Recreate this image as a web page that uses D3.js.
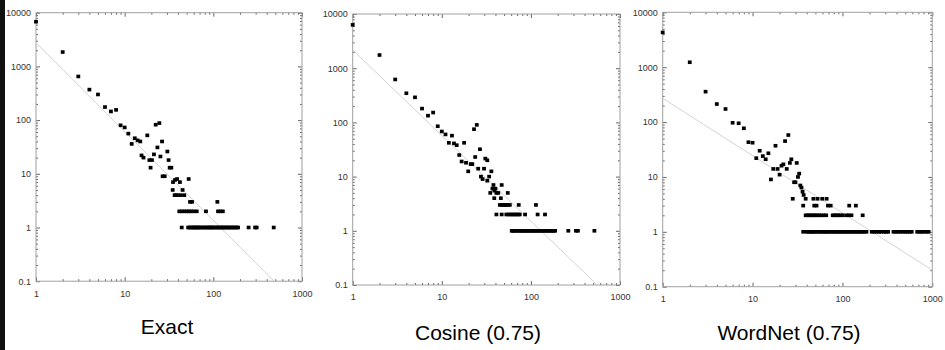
<!DOCTYPE html>
<html>
<head>
<meta charset="utf-8">
<script src="https://cdn.jsdelivr.net/npm/d3@7"></script>
<style>
  body { margin: 0; background: #fff; }
  text { font-family: Arial, "Liberation Sans", sans-serif; }
</style>
</head>
<body>
<div id="chart"></div>
<script>
// tick values and panel titles
const xTicks = [1, 10, 100, 1000];
const yTicks = [0.1, 1, 10, 100, 1000, 10000];
const panelTitles = ["Exact", "Cosine (0.75)", "WordNet (0.75)"];

// points: [x, y]
const exactPoints = [
  [1,6800],[2,1850],[3,650],[4,370],[5,300],[6,175],[7,145],[8,155],[9,80],[10,73],
  [11,56],[12,36],[13,46],[14,42],[15,40],[15.5,22],[16.3,20],[18,52],[19,18],[19.6,13],
  [20.3,18],[21.4,23],[22.4,82],[23.4,31],[24.6,88],[25.3,21],[26.4,40],[26.8,9],[28.3,9],
  [30.3,26],[31.3,18],[32.2,13],[33.6,13],[34.8,5],[35.1,7],[36.6,4],[37,7.7],[38,4],[39,8],
  [40,4],[42,7],[43,4],[45,5],[47,4],[52.7,8],[54.6,3],[57.5,3],[111,3],
  [41.3,2],[44,2],[47,2],[50,2],[53,2],[56,2],[60,2],[65,2],[82.6,2],[113,2],[120,2],[128,2],
  [44,1],[52,1],[54,1],[56,1],[58,1],[60,1],[62,1],[64,1],[66,1],[68,1],[70,1],[73,1],[76,1],
  [79,1],[82,1],[85,1],[88,1],[91,1],[94,1],[97,1],[100,1],[104,1],[108,1],[112,1],[116,1],
  [120,1],[124,1],[128,1],[132,1],[137,1],[142,1],[147,1],[152,1],[158,1],[164,1],[170,1],
  [177,1],[184,1],[190,1],[250,1],[296,1],[308,1],[480,1]
];
const cosinePoints = [
  [1,6300],[2,1750],[3,620],[4,345],[5,290],[6,180],[7,133],[8,152],[9,85],[10,68],
  [11,60],[12,42],[13,57],[13.7,41],[14.7,38],[15.7,25],[16.7,19],[17.8,42],[18.7,18],[19.8,12.5],
  [21.1,17],[22,17],[23,75],[23.7,23],[24.7,90],[25.6,14],[26.8,32],[27.5,10],[28.7,9],[29.8,14],
  [30.8,21.5],[32.4,20],[32.4,8.4],[34,10],[36,12.5],[35,5],[37,6],[38,7],[39,5.5],[40,6],
  [41,5],[43,5],[47,7],[38.8,4],[46,4],[55,5],
  [44.8,3],[47,3],[49,3],[51,3],[53,3],[55,3],[58,3],[73,3],[114,3],
  [41,2],[47,2],[53,2],[56,2],[59,2],[62,2],[65,2],[68,2],[72,2],[75,2],[86,2],[119,2],[144,2],
  [61,1],[63,1],[65,1],[68,1],[71,1],[74,1],[77,1],[80,1],[83,1],[86,1],[89,1],[92,1],[96,1],
  [100,1],[104,1],[108,1],[112,1],[116,1],[121,1],[126,1],[131,1],[136,1],[142,1],[148,1],
  [154,1],[160,1],[167,1],[174,1],[180,1],[187,1],[263,1],[320,1],[337,1],[516,1]
];
const wordnetPoints = [
  [1,4300],[2,1230],[3,358],[4,213],[5,173],[6,97],[7,95],[8,77],[9,43],[10,42],
  [11,22],[12,30],[13,24],[14,21],[15,27],[16,9],[17,14],[18,37],[19,14],[20,11],
  [21,16],[22,17],[23,45],[24,14],[25,58],[26,18],[27,21],[28,4],[29,8],[30,8],
  [31,18],[32,10],[33,11.5],[34,7],[35,6.4],[36,5.4],[37,4.7],[39,4],
  [47.5,4],[52.8,4],[59.6,4],[66.7,4],
  [36.6,3],[48.6,3],[51.5,3],[69,3],[74,3],[119,3],[141,3],
  [39,2],[41,2],[43,2],[45,2],[47.5,2],[49.5,2],[52,2],[55,2],[58,2],[62,2],[66,2],
  [78,2],[82,2],[86,2],[90,2],[95,2],[101,2],[111,2],[118,2],[126,2],[168,2],
  [36.6,1],[40,1],[42,1],[44,1],[46,1],[48,1],[50,1],[53,1],[56,1],[59,1],[62,1],[65,1],
  [68,1],[71,1],[75,1],[79,1],[83,1],[87,1],[91,1],[96,1],[101,1],[106,1],[111,1],[117,1],
  [123,1],[129,1],[136,1],[143,1],[150,1],[158,1],[166,1],[175,1],[185,1],
  [212,1],[225,1],[240,1],[255,1],[270,1],[290,1],[305,1],[322,1],
  [370,1],[390,1],[415,1],[440,1],[470,1],[500,1],[530,1],[560,1],[590,1],
  [680,1],[720,1],[760,1],[800,1],[860,1],[910,1]
];

// fitted power-law lines: start and end points
const exactFit = [[1,2760],[483,0.1]];
const cosineFit = [[1,2170],[557,0.1]];
const wordnetFit = [[1,271],[1000,0.2]];

// panel boxes and title anchors
const panels = [
  {left: 36,    right: 302,   top: 12.7, bottom: 281.2, titleX: 167, titleY: 334},
  {left: 352.7, right: 620,   top: 14,   bottom: 285,   titleX: 478, titleY: 340},
  {left: 662.7, right: 932.3, top: 12.3, bottom: 286.7, titleX: 789, titleY: 340}
];

const width = 945, height = 350;

const svg = d3.select("#chart")
  .append("svg")
    .attr("width", width)
    .attr("height", height);

svg.append("rect")
  .attr("width", width).attr("height", height).attr("fill", "#fff");

// dark strip on the left edge
svg.append("rect")
  .attr("x", 0).attr("y", 0).attr("width", 5).attr("height", height)
  .attr("fill", "#111");

// minor ticks for log axes
function minorTicks(domain) {
  const out = [];
  for (let d = domain[0]; d < domain[1]; d *= 10) {
    for (let k = 2; k < 10; k++) out.push(d * k);
  }
  return out;
}

function styleAxis(g) {
  g.select(".domain").remove();
  g.attr("font-size", 9)
   .attr("font-family", "Arial, 'Liberation Sans', sans-serif")
   .attr("color", "#666");
  g.selectAll("text").attr("fill", "#333");
}

function drawPanel(p, points, fit, title) {
  const x = d3.scaleLog().domain([1, 1000]).range([p.left, p.right]);
  const y = d3.scaleLog().domain([0.1, 10000]).range([p.bottom, p.top]);
  const g = svg.append("g");
  const fmt = d => String(d);

  // major ticks with labels
  g.append("g").attr("transform", `translate(0,${p.bottom})`)
    .call(d3.axisBottom(x).tickValues(xTicks).tickSizeInner(-4).tickSizeOuter(0).tickPadding(9).tickFormat(fmt))
    .call(styleAxis);
  g.append("g").attr("transform", `translate(${p.left},0)`)
    .call(d3.axisLeft(y).tickValues(yTicks).tickSizeInner(-4).tickSizeOuter(0).tickPadding(5).tickFormat(fmt))
    .call(styleAxis);
  g.append("g").attr("transform", `translate(0,${p.top})`)
    .call(d3.axisTop(x).tickValues(xTicks).tickSizeInner(-4).tickSizeOuter(0).tickFormat(""))
    .call(styleAxis);
  g.append("g").attr("transform", `translate(${p.right},0)`)
    .call(d3.axisRight(y).tickValues(yTicks).tickSizeInner(-4).tickSizeOuter(0).tickFormat(""))
    .call(styleAxis);

  // minor ticks
  const mx = minorTicks([1, 1000]), my = minorTicks([0.1, 10000]);
  g.append("g").attr("transform", `translate(0,${p.bottom})`)
    .call(d3.axisBottom(x).tickValues(mx).tickSizeInner(-2).tickSizeOuter(0).tickFormat("")).call(styleAxis);
  g.append("g").attr("transform", `translate(0,${p.top})`)
    .call(d3.axisTop(x).tickValues(mx).tickSizeInner(-2).tickSizeOuter(0).tickFormat("")).call(styleAxis);
  g.append("g").attr("transform", `translate(${p.left},0)`)
    .call(d3.axisLeft(y).tickValues(my).tickSizeInner(-2).tickSizeOuter(0).tickFormat("")).call(styleAxis);
  g.append("g").attr("transform", `translate(${p.right},0)`)
    .call(d3.axisRight(y).tickValues(my).tickSizeInner(-2).tickSizeOuter(0).tickFormat("")).call(styleAxis);

  // frame
  g.append("rect")
    .attr("x", p.left).attr("y", p.top)
    .attr("width", p.right - p.left).attr("height", p.bottom - p.top)
    .attr("fill", "none").attr("stroke", "#a0a0a0").attr("stroke-width", 1);

  // fit line
  g.append("path")
    .datum(fit)
    .attr("fill", "none")
    .attr("stroke", "#d4d4d4")
    .attr("stroke-width", 1)
    .attr("d", d3.line().x(d => x(d[0])).y(d => y(d[1])));

  // points
  g.append("g").selectAll("rect")
    .data(points)
    .enter()
    .append("rect")
      .attr("x", d => x(d[0]) - 1.9)
      .attr("y", d => y(d[1]) - 1.8)
      .attr("width", 3.8)
      .attr("height", 3.6)
      .attr("fill", "#000");

  // title under the panel
  svg.append("text")
    .attr("x", p.titleX)
    .attr("y", p.titleY)
    .attr("text-anchor", "middle")
    .attr("font-size", 21)
    .attr("fill", "#000")
    .text(title);
}

drawPanel(panels[0], exactPoints, exactFit, panelTitles[0]);
drawPanel(panels[1], cosinePoints, cosineFit, panelTitles[1]);
drawPanel(panels[2], wordnetPoints, wordnetFit, panelTitles[2]);
</script>
</body>
</html>
